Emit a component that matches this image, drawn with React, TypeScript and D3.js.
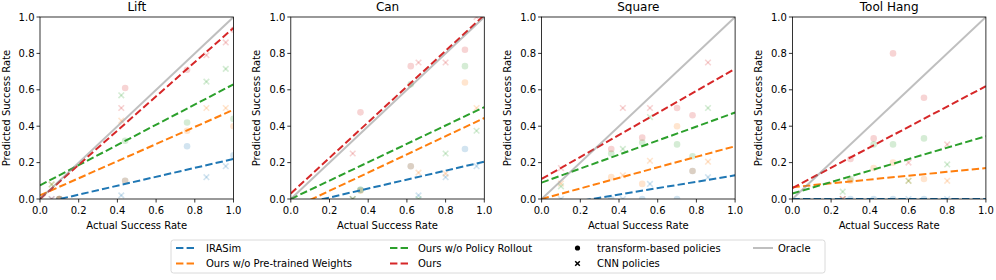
import React from 'react';
import * as d3 from 'd3';

const tasks = ['Lift', 'Can', 'Square', 'Tool Hang'];
const seriesNames = ['IRASim', 'Ours w/o Pre-trained Weights', 'Ours w/o Policy Rollout', 'Ours'];
const seriesColors = ['#1f77b4', '#ff7f0e', '#2ca02c', '#d62728'];

// actual success rates of the evaluated policies, per task
const transformerActual = [
  [0.10, 0.44, 0.76, 1.00],
  [0.36, 0.62, 0.90],
  [0.36, 0.52, 0.70, 0.78],
  [0.30, 0.42, 0.52, 0.68],
];
const cnnActual = [
  [0.06, 0.42, 0.86, 0.96],
  [0.32, 0.66, 0.80, 0.96],
  [0.10, 0.42, 0.56, 0.86],
  [0.26, 0.60, 0.80],
];

// predicted success rates [task][series][policy]
const transformerPred = [
  [[0.0, 0.10, 0.29, 0.24], [0.0, 0.10, 0.375, 0.40], [0.0, 0.32, 0.42, 0.44], [0.0, 0.61, 0.71, 0.93]],
  [[0.05, 0.18, 0.275], [0.045, 0.18, 0.64], [0.05, 0.63, 0.73], [0.476, 0.73, 0.82]],
  [[0.0, 0.0, 0.0, 0.154], [0.12, 0.083, 0.40, 0.154], [0.25, 0.31, 0.30, 0.235], [0.275, 0.337, 0.50, 0.46]],
  [[0.0, 0.0, 0.0, 0.0], [0.10, 0.17, 0.20, 0.11], [0.11, 0.30, 0.30, 0.333], [0.22, 0.333, 0.80, 0.556]],
];
const cnnPred = [
  [[0.0, 0.02, 0.12, 0.18], [0.08, 0.43, 0.50, 0.50], [0.08, 0.57, 0.645, 0.715], [0.0, 0.50, 0.79, 0.86]],
  [[0.0, 0.02, 0.12, 0.18], [0.0, 0.145, 0.14, 0.50], [0.0, 0.0, 0.25, 0.375], [0.25, 0.75, 0.75, 1.0]],
  [[0.0, 0.0, 0.083, 0.12], [0.085, 0.13, 0.21, 0.205], [0.07, 0.275, 0.45, 0.50], [0.17, 0.50, 0.50, 0.75]],
  [[0.0, 0.0, 0.0], [0.0, 0.10, 0.10], [0.04, 0.10, 0.19], [0.0, 0.20, 0.30]],
];

// fitted lines: value at x=0 and at x=1 [task][series]
const fitStart = [
  [-0.025, 0.02, 0.075, 0.0],
  [-0.041, -0.055, 0.0, 0.03],
  [-0.046, 0.0, 0.09, 0.11],
  [0.0, 0.065, 0.03, 0.06],
];
const fitEnd = [
  [0.22, 0.49, 0.63, 0.94],
  [0.205, 0.445, 0.505, 1.01],
  [0.13, 0.29, 0.475, 0.715],
  [0.0, 0.17, 0.345, 0.62],
];

const ticks = [0, 0.2, 0.4, 0.6, 0.8, 1.0];

const W = 996;
const H = 280;
const axTop = 17;
const axBottom = 199;
const axW = 193.5;
const font = 'DejaVu Sans, sans-serif';
const fmt = d3.format('.1f');

const Cross = ({ cx, cy, r, color, opacity, sw }: any) => (
  <g stroke={color} strokeOpacity={opacity} strokeWidth={sw}>
    <line x1={cx - r} y1={cy - r} x2={cx + r} y2={cy + r} />
    <line x1={cx - r} y1={cy + r} x2={cx + r} y2={cy - r} />
  </g>
);

const Panel = ({ ti }: { ti: number }) => {
  const left = 40 + ti * 250.8;
  const x = d3.scaleLinear().domain([0, 1]).range([left, left + axW]);
  const y = d3.scaleLinear().domain([0, 1]).range([axBottom, axTop]);
  const line = d3.line<[number, number]>().x((d) => x(d[0])).y((d) => y(d[1]));
  const clipId = `clip-${ti}`;
  return (
    <g>
      <defs>
        <clipPath id={clipId}>
          <rect x={left} y={axTop} width={axW} height={axBottom - axTop} />
        </clipPath>
      </defs>
      <g clipPath={`url(#${clipId})`}>
        {seriesColors.map((c, si) => (
          <g key={si}>
            {transformerActual[ti].map((a, k) => (
              <circle key={'t' + k} cx={x(a)} cy={y(transformerPred[ti][si][k])} r={3.3} fill={c} fillOpacity={0.2} />
            ))}
            {cnnActual[ti].map((a, k) => (
              <Cross key={'c' + k} cx={x(a)} cy={y(cnnPred[ti][si][k])} r={2.8} color={c} opacity={0.2} sw={1.6} />
            ))}
          </g>
        ))}
        {seriesColors.map((c, si) => (
          <path
            key={si}
            d={line([[0, fitStart[ti][si]], [1, fitEnd[ti][si]]]) || ''}
            stroke={c}
            strokeWidth={2}
            strokeDasharray="7.4,3.2"
            fill="none"
          />
        ))}
        <path d={line([[0, 0], [1, 1]]) || ''} stroke="#808080" strokeOpacity={0.5} strokeWidth={2} fill="none" />
      </g>
      <rect x={left} y={axTop} width={axW} height={axBottom - axTop} fill="none" stroke="#000" strokeWidth={0.8} />
      {ticks.map((t) => (
        <g key={'x' + t}>
          <line x1={x(t)} x2={x(t)} y1={axBottom} y2={axBottom + 3.5} stroke="#000" strokeWidth={0.8} />
          <text x={x(t)} y={214} textAnchor="middle" fontSize={10} fontFamily={font}>{fmt(t)}</text>
        </g>
      ))}
      {ticks.map((t) => (
        <g key={'y' + t}>
          <line x1={left - 3.5} x2={left} y1={y(t)} y2={y(t)} stroke="#000" strokeWidth={0.8} />
          <text x={left - 5.5} y={y(t) + 3.6} textAnchor="end" fontSize={10} fontFamily={font}>{fmt(t)}</text>
        </g>
      ))}
      <text x={left + axW / 2} y={10.5} textAnchor="middle" fontSize={12} fontFamily={font}>{tasks[ti]}</text>
      <text x={left + axW / 2} y={229} textAnchor="middle" fontSize={10} fontFamily={font}>Actual Success Rate</text>
      <text
        transform={`translate(${left - 30.5},${(axTop + axBottom) / 2}) rotate(-90)`}
        textAnchor="middle"
        fontSize={10}
        fontFamily={font}
      >
        Predicted Success Rate
      </text>
    </g>
  );
};

const Legend = () => {
  const rows = [251.5, 267];
  const dashHandle = (x0: number, yc: number, c: string) => (
    <line x1={x0} x2={x0 + 19} y1={yc} y2={yc} stroke={c} strokeWidth={2} strokeDasharray="7.4,3.2" />
  );
  const lineY = (r: number) => rows[r] - 3.5;
  return (
    <g fontFamily={font} fontSize={10}>
      <rect x={171} y={240} width={654} height={33} rx={2.5} fill="#fff" fillOpacity={0.8} stroke="#d0d0d0" strokeWidth={0.8} />
      {dashHandle(176, lineY(0), seriesColors[0])}
      <text x={206} y={rows[0]}>{seriesNames[0]}</text>
      {dashHandle(176, lineY(1), seriesColors[1])}
      <text x={206} y={rows[1]}>{seriesNames[1]}</text>
      {dashHandle(390, lineY(0), seriesColors[2])}
      <text x={418} y={rows[0]}>{seriesNames[2]}</text>
      {dashHandle(390, lineY(1), seriesColors[3])}
      <text x={418} y={rows[1]}>{seriesNames[3]}</text>
      <circle cx={577.5} cy={lineY(0)} r={2.6} fill="#000" />
      <text x={597} y={rows[0]}>transform-based policies</text>
      <Cross cx={577.5} cy={lineY(1)} r={2.3} color="#000" opacity={1} sw={1.5} />
      <text x={597} y={rows[1]}>CNN policies</text>
      <line x1={753} x2={773} y1={lineY(0)} y2={lineY(0)} stroke="#808080" strokeOpacity={0.5} strokeWidth={2} />
      <text x={778} y={rows[0]}>Oracle</text>
    </g>
  );
};

export default function App() {
  return (
    <svg
      width={W}
      height={H}
      viewBox={`0 0 ${W} ${H}`}
      style={{ position: 'absolute', left: 0, top: 0, background: '#fff' }}
    >
      {tasks.map((_, i) => (
        <Panel key={i} ti={i} />
      ))}
      <Legend />
    </svg>
  );
}
